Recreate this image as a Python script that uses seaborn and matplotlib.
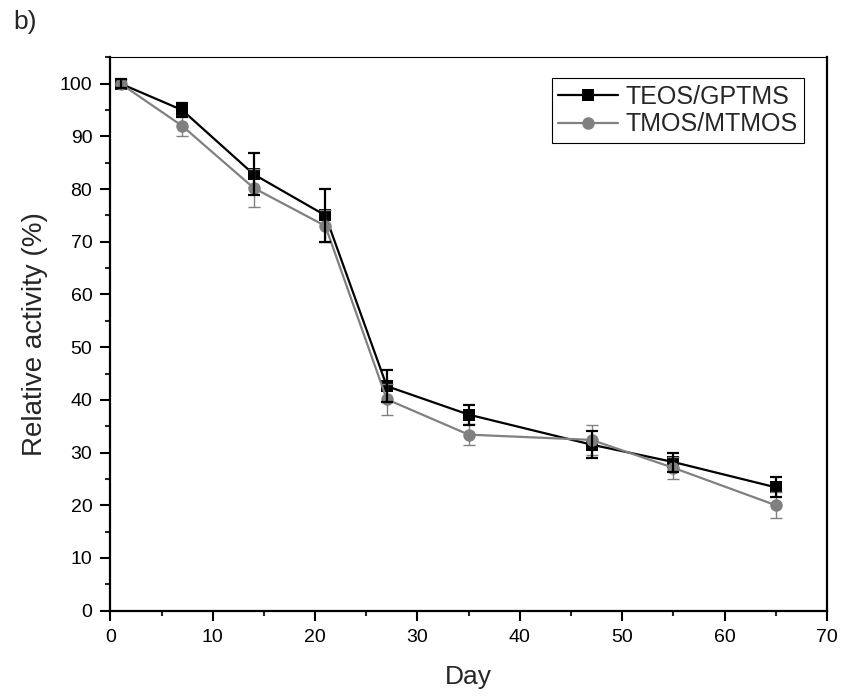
import matplotlib
matplotlib.use("Agg")
import matplotlib.pyplot as plt
from matplotlib.ticker import MultipleLocator
import seaborn as sns
import pandas as pd

# Storage stability of the two sol-gel matrices
days = [1, 7, 14, 21, 27, 35, 47, 55, 65]
teos_gptms = [100, 95.0, 82.8, 75.0, 42.6, 37.2, 31.5, 28.2, 23.4]
teos_gptms_err = [0.8, 1.4, 4.0, 5.1, 3.1, 1.9, 2.5, 1.8, 1.9]
tmos_mtmos = [100, 92.0, 80.2, 73.0, 40.1, 33.4, 32.4, 27.1, 20.0]
tmos_mtmos_err = [0.8, 1.9, 3.6, 3.0, 3.0, 2.0, 2.9, 2.1, 2.5]
series_names = ["TEOS/GPTMS", "TMOS/MTMOS"]

sns.set_theme(style="ticks")
plt.rcParams["font.family"] = ["Liberation Sans", "DejaVu Sans"]

df = pd.DataFrame({
    "Day": days * 2,
    "Activity": teos_gptms + tmos_mtmos,
    "Matrix": [series_names[0]] * len(days) + [series_names[1]] * len(days),
})

fig = plt.figure(figsize=(8.41, 6.96), dpi=100)
ax = fig.add_axes([0.1312, 0.1226, 0.8522, 0.7951])

palette = {series_names[0]: "black", series_names[1]: "#808080"}
sns.lineplot(data=df, x="Day", y="Activity", hue="Matrix", style="Matrix",
             markers={series_names[0]: "s", series_names[1]: "o"}, dashes=False,
             palette=palette, markersize=9, markeredgewidth=0, linewidth=1.6,
             ax=ax, legend=True)

ax.errorbar(days, teos_gptms, yerr=teos_gptms_err, fmt="none", ecolor="black",
            elinewidth=1.6, capsize=4, capthick=1.6, zorder=5)
ax.errorbar(days, tmos_mtmos, yerr=tmos_mtmos_err, fmt="none", ecolor="#808080",
            elinewidth=1.0, capsize=4, capthick=1.0, zorder=4)

ax.set_xlim(0, 70)
ax.set_ylim(0, 105)
ax.xaxis.set_major_locator(MultipleLocator(10))
ax.xaxis.set_minor_locator(MultipleLocator(5))
ax.yaxis.set_major_locator(MultipleLocator(10))
ax.yaxis.set_minor_locator(MultipleLocator(5))
ax.tick_params(which="both", top=False, right=False)
ax.tick_params(which="major", direction="out", length=7, width=1.5,
               labelsize=14, colors="black", pad=6)
ax.tick_params(which="minor", direction="out", length=3.5, width=1.5)

for side in ["left", "bottom", "right"]:
    ax.spines[side].set_linewidth(1.6)
    ax.spines[side].set_color("black")
ax.spines["top"].set_linewidth(0.8)
ax.spines["top"].set_color("black")

ax.set_xlabel("Day", fontsize=19)
ax.set_ylabel("Relative activity (%)", fontsize=20)
ax.xaxis.set_label_coords(0.5, -0.098)
ax.yaxis.set_label_coords(-0.087, 0.5)

leg = ax.legend(loc="upper right", bbox_to_anchor=(0.968, 0.962), fontsize=18,
                frameon=True, fancybox=False, edgecolor="black", framealpha=1,
                borderpad=0.25, handlelength=2.4, handletextpad=0.3,
                labelspacing=0.15, borderaxespad=0)
leg.get_frame().set_linewidth(0.8)
for h in leg.legend_handles:
    h.set_markersize(9)
    h.set_linewidth(1.6)

fig.text(0.016, 0.985, "b)", fontsize=19, va="top", ha="left")

fig.savefig("out.png", dpi=100, facecolor="white")
